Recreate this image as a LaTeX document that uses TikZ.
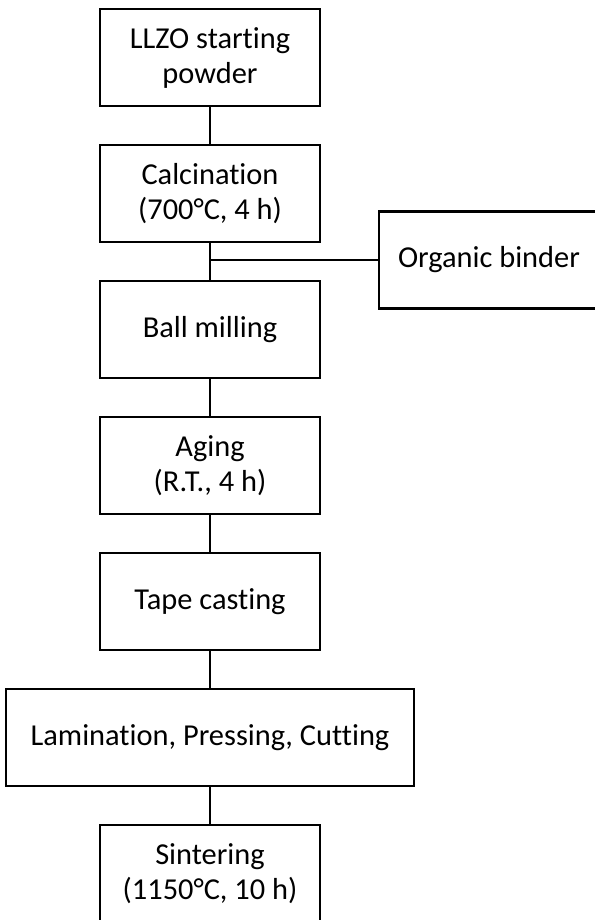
\documentclass[tikz,border=0pt]{standalone}
\usepackage{fontspec}
\setmainfont{Carlito}[Ligatures=NoCommon]
\usetikzlibrary{positioning}

\begin{document}
\begin{tikzpicture}[
    font=\fontsize{15.2}{17.5}\selectfont, node distance=18.2pt,
    stepbox/.style={draw, line width=1.3pt, align=center, minimum width=110pt, minimum height=48.5pt, inner sep=2pt},
    link/.style={line width=1.3pt}
  ]
    \useasboundingbox (0,0) rectangle (297pt,-460pt);
    \node[stepbox](powder) at (105pt,-28.75pt){LLZO starting\\powder};
    \node[stepbox,below=of powder](calc){Calcination\\(700°C, 4 h)};
    \node[stepbox,below=of calc](mill){Ball milling};
    \node[stepbox,below=of mill](aging){Aging\\(R.T., 4 h)};
    \node[stepbox,below=of aging](tape){Tape casting};
    \node[stepbox,below=of tape,minimum width=204pt](lam){Lamination, Pressing, Cutting};
    \node[stepbox,below=of lam](sinter){Sintering\\(1150°C, 10 h)};
    \node[stepbox](binder) at (244.5pt,-130pt){Organic binder};
    \coordinate (join) at (calc.south |- binder.west);
    \draw[link](powder)--(calc);
    \draw[link](calc)--(mill);
    \draw[link](join)--(binder);
    \draw[link](mill)--(aging);
    \draw[link](aging)--(tape);
    \draw[link](tape)--(lam);
    \draw[link](lam)--(sinter);
  \end{tikzpicture}
\end{document}
